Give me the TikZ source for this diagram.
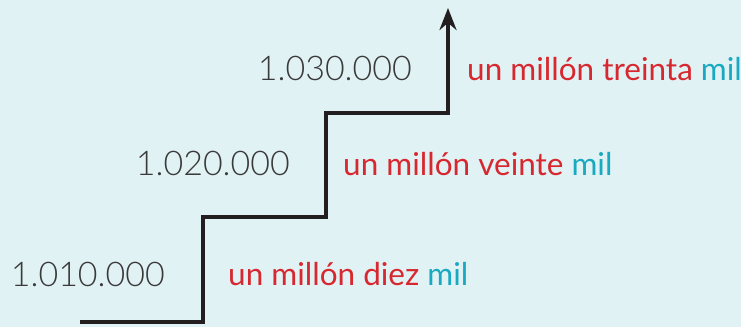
\documentclass[tikz,border=0pt]{standalone}
\usepackage{fontspec}
\setmainfont{Lato}
\IfFontExistsTF{Lato Light}{\newfontfamily\numfont{Lato Light}}{\newfontfamily\numfont{Lato}}
\usetikzlibrary{arrows.meta}
\definecolor{bg}{HTML}{E1F2F5}
\definecolor{numgray}{HTML}{3A3A3A}
\definecolor{wred}{HTML}{D7282F}
\definecolor{wcyan}{HTML}{19A9C0}
\definecolor{stair}{HTML}{231F20}
\begin{document}
\begin{tikzpicture}[x=1pt,y=-1pt,
  num/.style={anchor=base east,inner sep=0pt,text=numgray,font=\numfont\fontsize{34}{36}\selectfont},
  words/.style={anchor=base west,inner sep=0pt,text=wred,font=\fontsize{31.5}{34}\selectfont},
  stairline/.style={draw=stair,line width=4pt,line join=miter}]
\fill[bg] (0,0) rectangle (741,327);
\useasboundingbox (0,0) rectangle (741,327);
\coordinate (s0) at (80,322);
\coordinate (s1) at (203,322);
\coordinate (s2) at (203,217);
\coordinate (s3) at (326,217);
\coordinate (s4) at (326,113);
\coordinate (s5) at (448,113);
\coordinate (s6) at (448,8);
\draw[stairline,-{Stealth[length=22pt,width=17pt]}] (s0) -- (s1) -- (s2) -- (s3) -- (s4) -- (s5) -- (s6);
\node[num] (n1) at (165,286) {1.010.000};
\node[num] (n2) at (290,175) {1.020.000};
\node[num] (n3) at (412,80) {1.030.000};
\node[words] (w1) at (228,285) {un millón diez \textcolor{wcyan}{mil}};
\node[words] (w2) at (343,175) {un millón veinte \textcolor{wcyan}{mil}};
\node[words] (w3) at (467,80) {un millón treinta \textcolor{wcyan}{mil}};
\end{tikzpicture}
\end{document}
